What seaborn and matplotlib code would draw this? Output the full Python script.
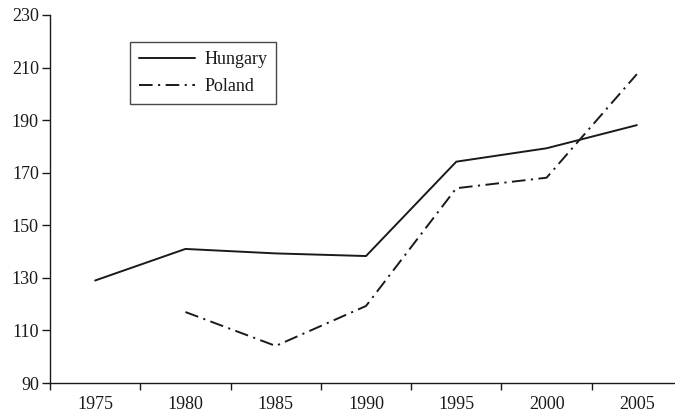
import numpy as np
import pandas as pd
import matplotlib
matplotlib.use("Agg")
import matplotlib.pyplot as plt
import seaborn as sns

years = ["1975", "1980", "1985", "1990", "1995", "2000", "2005"]
hungary = [129, 141, 139.3, 138.3, 174.2, 179.3, 188.1]
poland = [np.nan, 117, 104.1, 119.3, 164.1, 168.1, 207.5]

sns.set_style("white")
plt.rcParams['font.family'] = ['Liberation Serif', 'DejaVu Serif']

rows = []
for i, y in enumerate(years):
    rows.append({"pos": i, "value": hungary[i], "country": "Hungary"})
    if not np.isnan(poland[i]):
        rows.append({"pos": i, "value": poland[i], "country": "Poland"})
df = pd.DataFrame(rows)

fig = plt.figure(figsize=(6.75, 4.15), dpi=100)
ax = fig.add_axes([50 / 675, 32 / 415, 632 / 675, 368 / 415])
sns.lineplot(data=df, x="pos", y="value", style="country",
             dashes={"Hungary": "", "Poland": (7, 2.8, 1.1, 2.8)},
             color="#1a1a1a", linewidth=1.4, ax=ax, legend=True)

ax.set_xlim(-0.5, 6.5)
ax.set_ylim(90, 230)
ax.set_yticks(range(90, 231, 20))
ax.set_xticks(np.arange(-0.5, 7, 1))
ax.set_xticklabels([])
ax.set_xticks(range(len(years)), minor=True)
ax.set_xticklabels(years, minor=True)
ax.tick_params(axis="x", which="major", length=5, width=1, color="#1a1a1a", direction="out", bottom=True)
ax.tick_params(axis="x", which="minor", length=0, labelsize=13, pad=9, colors="#1a1a1a")
ax.tick_params(axis="y", length=6, width=1, color="#1a1a1a", labelsize=13, left=True, pad=2, labelcolor="#1a1a1a")
ax.set_xlabel("")
ax.set_ylabel("")
for side in ["top", "right"]:
    ax.spines[side].set_visible(False)
for side in ["left", "bottom"]:
    ax.spines[side].set_color("#1a1a1a")
    ax.spines[side].set_linewidth(1)

leg = ax.legend(loc="upper left", bbox_to_anchor=(80 / 632, 1 - 27 / 368),
                frameon=True, fancybox=False, edgecolor="#1a1a1a",
                fontsize=13, handlelength=3.1, borderpad=0.5,
                labelspacing=0.55, handletextpad=0.5, borderaxespad=0)
leg.get_frame().set_linewidth(1)
for t in leg.get_texts():
    t.set_color("#1a1a1a")

fig.savefig("out.png", dpi=100)
